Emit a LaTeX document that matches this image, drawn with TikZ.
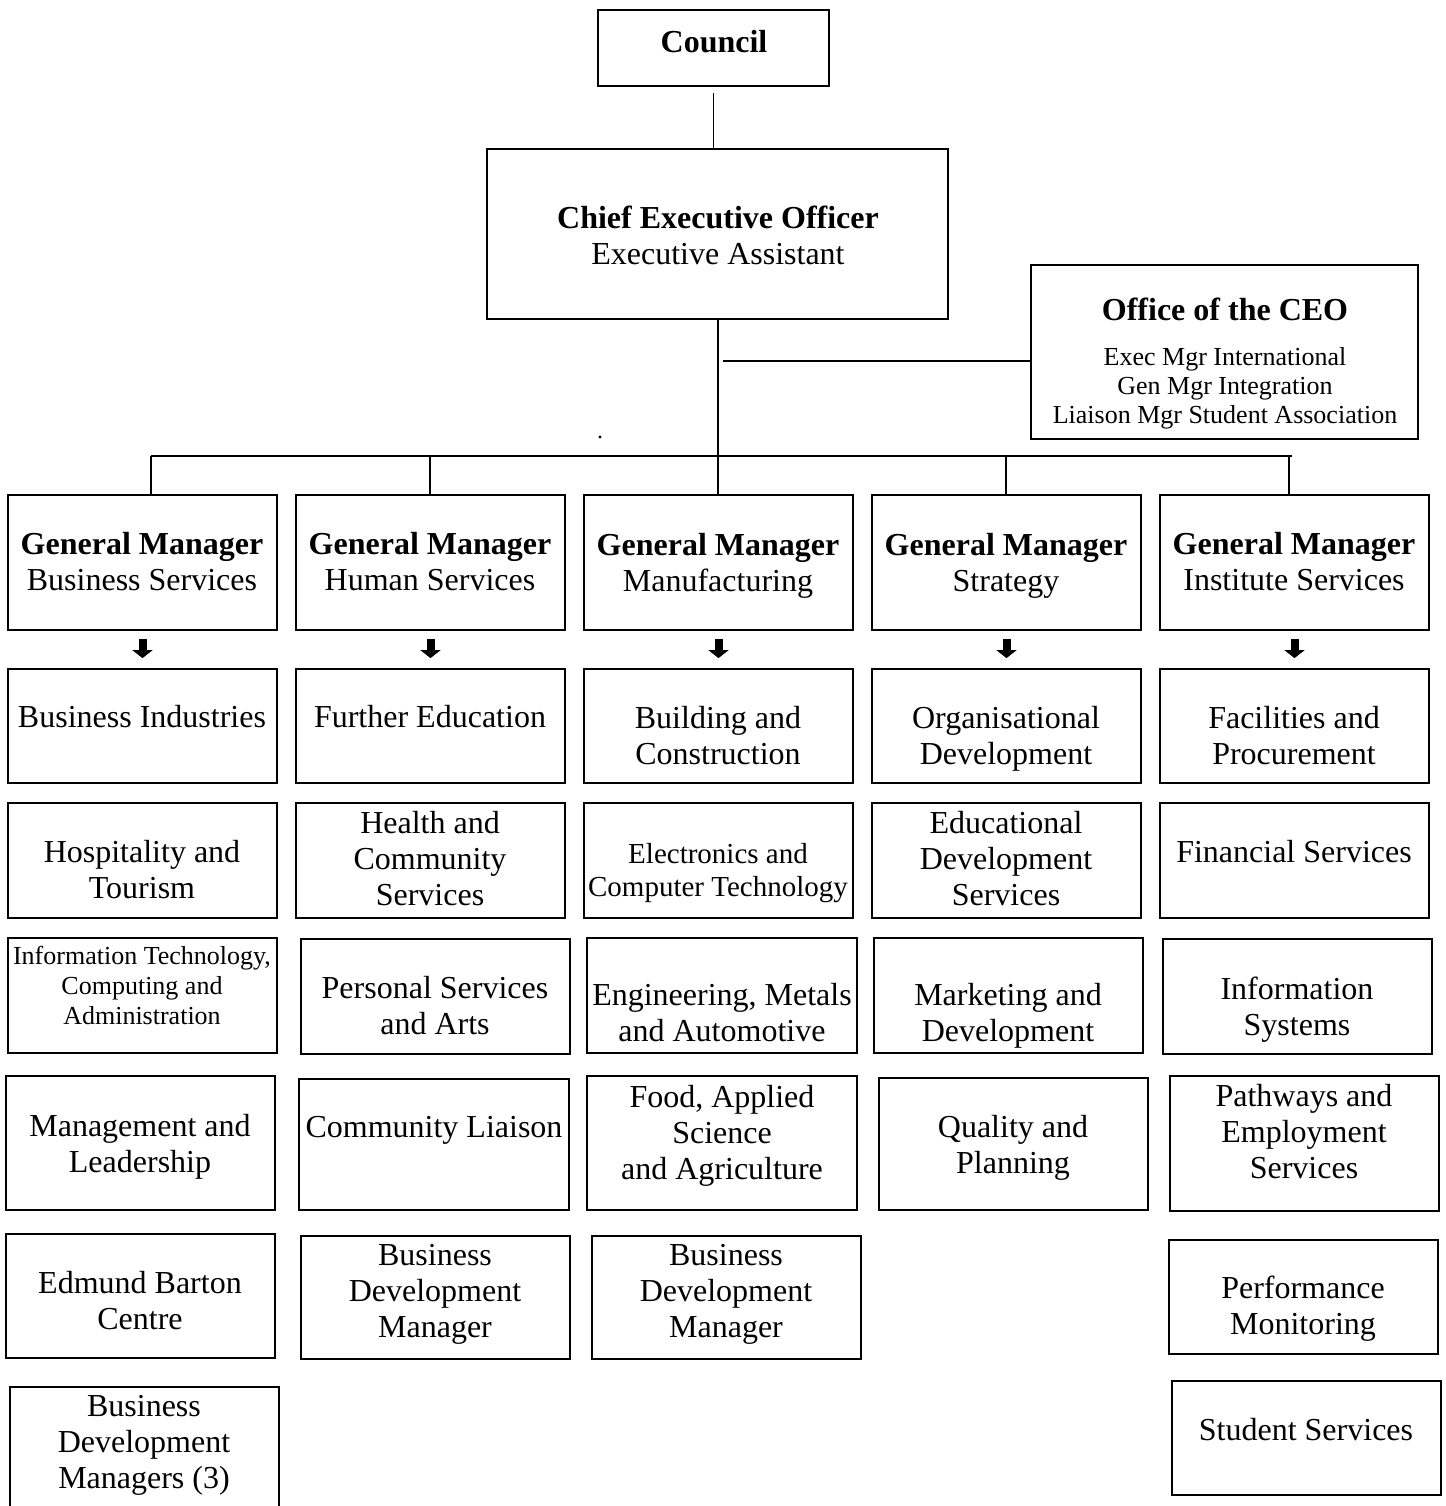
\documentclass[tikz,border=0pt]{standalone}
\usepackage{fontspec}
\setmainfont{Liberation Serif}
\usetikzlibrary{fit,arrows.meta}

\begin{document}
\begin{tikzpicture}[x=0.5pt,y=-0.5pt,
	box/.style={draw, line width=0.9pt, inner sep=0pt},
	lbl/.style={align=center, inner sep=0pt, font=\fontsize{16}{18}\selectfont},
	lblsmall/.style={align=center, inner sep=0pt, font=\fontsize{13}{14.5}\selectfont},
	link/.style={line width=0.8pt},
	down/.style={line width=4pt, -{Triangle[width=10pt,length=4pt]}, shorten <=4pt, shorten >=5pt}]
	\useasboundingbox (0,0) rectangle (1446,1506);
	\clip (0,0) rectangle (1446,1506);
	%%%nodes
	%top
	\node[box, fit={(598,10) (829,86)}] (Cncl) {};
	\node[lbl, font=\fontsize{16}{18}\selectfont\bfseries] (CnclT) at (714,42) {Council};
	\node[box, fit={(487,149) (948,319)}] (CEO) {};
	\node[lbl] (CEOt) at (718,235) {\textbf{Chief Executive Officer}\\Executive Assistant};
	\node[box, fit={(1031,265) (1418,439)}] (OCEO) {};
	\node[lbl] (OCEOt) at (1225,309) {\textbf{Office of the CEO}};
	\node[lblsmall] (OCEOl) at (1225,388) {Exec Mgr International\\Gen Mgr Integration\\Liaison Mgr Student Association};
	%general managers
	\node[box, fit={(8,495) (277,630)}] (GM1) {};
	\node[lbl] (GM1t) at (142,562) {\textbf{General Manager}\\Business Services};
	\node[box, fit={(296,495) (565,630)}] (GM2) {};
	\node[lbl] (GM2t) at (430,562) {\textbf{General Manager}\\Human Services};
	\node[box, fit={(584,495) (853,630)}] (GM3) {};
	\node[lbl] (GM3t) at (718,566) {\textbf{General Manager}\\Manufacturing};
	\node[box, fit={(872,495) (1141,630)}] (GM4) {};
	\node[lbl] (GM4t) at (1006,566) {\textbf{General Manager}\\Strategy};
	\node[box, fit={(1160,495) (1429,630)}] (GM5) {};
	\node[lbl] (GM5t) at (1294,562) {\textbf{General Manager}\\Institute Services};
	%row 1
	\node[box, fit={(8,669) (277,783)}] (U11) {};
	\node[lbl] (U11t) at (142,717) {Business Industries};
	\node[box, fit={(296,669) (565,783)}] (U12) {};
	\node[lbl] (U12t) at (430,717) {Further Education};
	\node[box, fit={(584,669) (853,783)}] (U13) {};
	\node[lbl] (U13t) at (718,736) {Building and\\Construction};
	\node[box, fit={(872,669) (1141,783)}] (U14) {};
	\node[lbl] (U14t) at (1006,739) {Organisational\\Development};
	\node[box, fit={(1160,669) (1429,783)}] (U15) {};
	\node[lbl] (U15t) at (1294,736) {Facilities and\\Procurement};
	%row 2
	\node[box, fit={(8,803) (277,918)}] (U21) {};
	\node[lbl] (U21t) at (142,870) {Hospitality and\\Tourism};
	\node[box, fit={(296,803) (565,918)}] (U22) {};
	\node[lbl] (U22t) at (430,859) {Health and\\Community\\Services};
	\node[box, fit={(584,803) (853,918)}] (U23) {};
	\node[lbl, font=\fontsize{14.5}{16.5}\selectfont] (U23t) at (718,873) {Electronics and\\Computer Technology};
	\node[box, fit={(872,803) (1141,918)}] (U24) {};
	\node[lbl] (U24t) at (1006,859) {Educational\\Development\\Services};
	\node[box, fit={(1160,803) (1429,918)}] (U25) {};
	\node[lbl] (U25t) at (1294,852) {Financial Services};
	%row 3
	\node[box, fit={(8,938) (277,1053)}] (U31) {};
	\node[lblsmall, font=\fontsize{13}{15}\selectfont] (U31t) at (142,985) {Information Technology,\\Computing and\\Administration};
	\node[box, fit={(301,939) (570,1054)}] (U32) {};
	\node[lbl] (U32t) at (435,1006) {Personal Services\\and Arts};
	\node[box, fit={(587,938) (857,1053)}] (U33) {};
	\node[lbl] (U33t) at (722,1013) {Engineering, Metals\\and Automotive};
	\node[box, fit={(874,938) (1143,1053)}] (U34) {};
	\node[lbl] (U34t) at (1008,1016) {Marketing and\\Development};
	\node[box, fit={(1163,939) (1432,1054)}] (U35) {};
	\node[lbl] (U35t) at (1297,1010) {Information\\Systems};
	%row 4
	\node[box, fit={(6,1076) (275,1210)}] (U41) {};
	\node[lbl] (U41t) at (140,1147) {Management and\\Leadership};
	\node[box, fit={(299,1079) (569,1210)}] (U42) {};
	\node[lbl] (U42t) at (434,1130) {Community Liaison};
	\node[box, fit={(587,1076) (857,1210)}] (U43) {};
	\node[lbl] (U43t) at (722,1136) {Food, Applied\\Science\\and Agriculture};
	\node[box, fit={(879,1078) (1148,1210)}] (U44) {};
	\node[lbl] (U44t) at (1013,1148) {Quality and\\Planning};
	\node[box, fit={(1170,1076) (1439,1211)}] (U45) {};
	\node[lbl] (U45t) at (1304,1132) {Pathways and\\Employment\\Services};
	%row 5
	\node[box, fit={(6,1234) (275,1358)}] (U51) {};
	\node[lbl] (U51t) at (140,1301) {Edmund Barton\\Centre};
	\node[box, fit={(301,1236) (570,1359)}] (U52) {};
	\node[lbl] (U52t) at (435,1294) {Business\\Development\\Manager};
	\node[box, fit={(592,1236) (861,1359)}] (U53) {};
	\node[lbl] (U53t) at (726,1294) {Business\\Development\\Manager};
	\node[box, fit={(1169,1240) (1438,1354)}] (U55) {};
	\node[lbl] (U55t) at (1303,1309) {Performance\\Monitoring};
	%row 6
	\node[box, fit={(10,1387) (279,1530)}] (U61) {};
	\node[lbl] (U61t) at (144,1445) {Business\\Development\\Managers (3)};
	\node[box, fit={(1172,1381) (1441,1495)}] (U65) {};
	\node[lbl] (U65t) at (1306,1430) {Student Services};
	%%%links
	%top
	\draw[link] ([yshift=-3pt]Cncl.south) -- (Cncl.south |- CEO.north);
	\coordinate (hub) at (718,455.5);
	\draw[link] (CEO.south -| hub) -- (hub);
	\coordinate (offj) at (723,361);
	\draw[link] (offj) -- (offj -| OCEO.west);
	\fill (600,437) circle (0.8pt);
	%bus
	\coordinate (d1) at (151,455.5);
	\coordinate (d2) at (430,455.5);
	\coordinate (d4) at (1006,455.5);
	\coordinate (d5) at (1289,455.5);
	\coordinate (busR) at (1292,455.5);
	\draw[link, line width=1pt] (d1) -- (busR);
	\draw[link] (d1) -- (d1 |- GM1.north);
	\draw[link] (d2) -- (d2 |- GM2.north);
	\draw[link] (hub) -- (hub |- GM3.north);
	\draw[link] (d4) -- (d4 |- GM4.north);
	\draw[link] (d5) -- (d5 |- GM5.north);
	%arrows
	\draw[down] (GM1) -- (U11);
	\draw[down] (GM2) -- (U12);
	\draw[down] (GM3) -- (U13);
	\draw[down] (GM4) -- (U14);
	\draw[down] (GM5) -- (U15);
\end{tikzpicture}
\end{document}
